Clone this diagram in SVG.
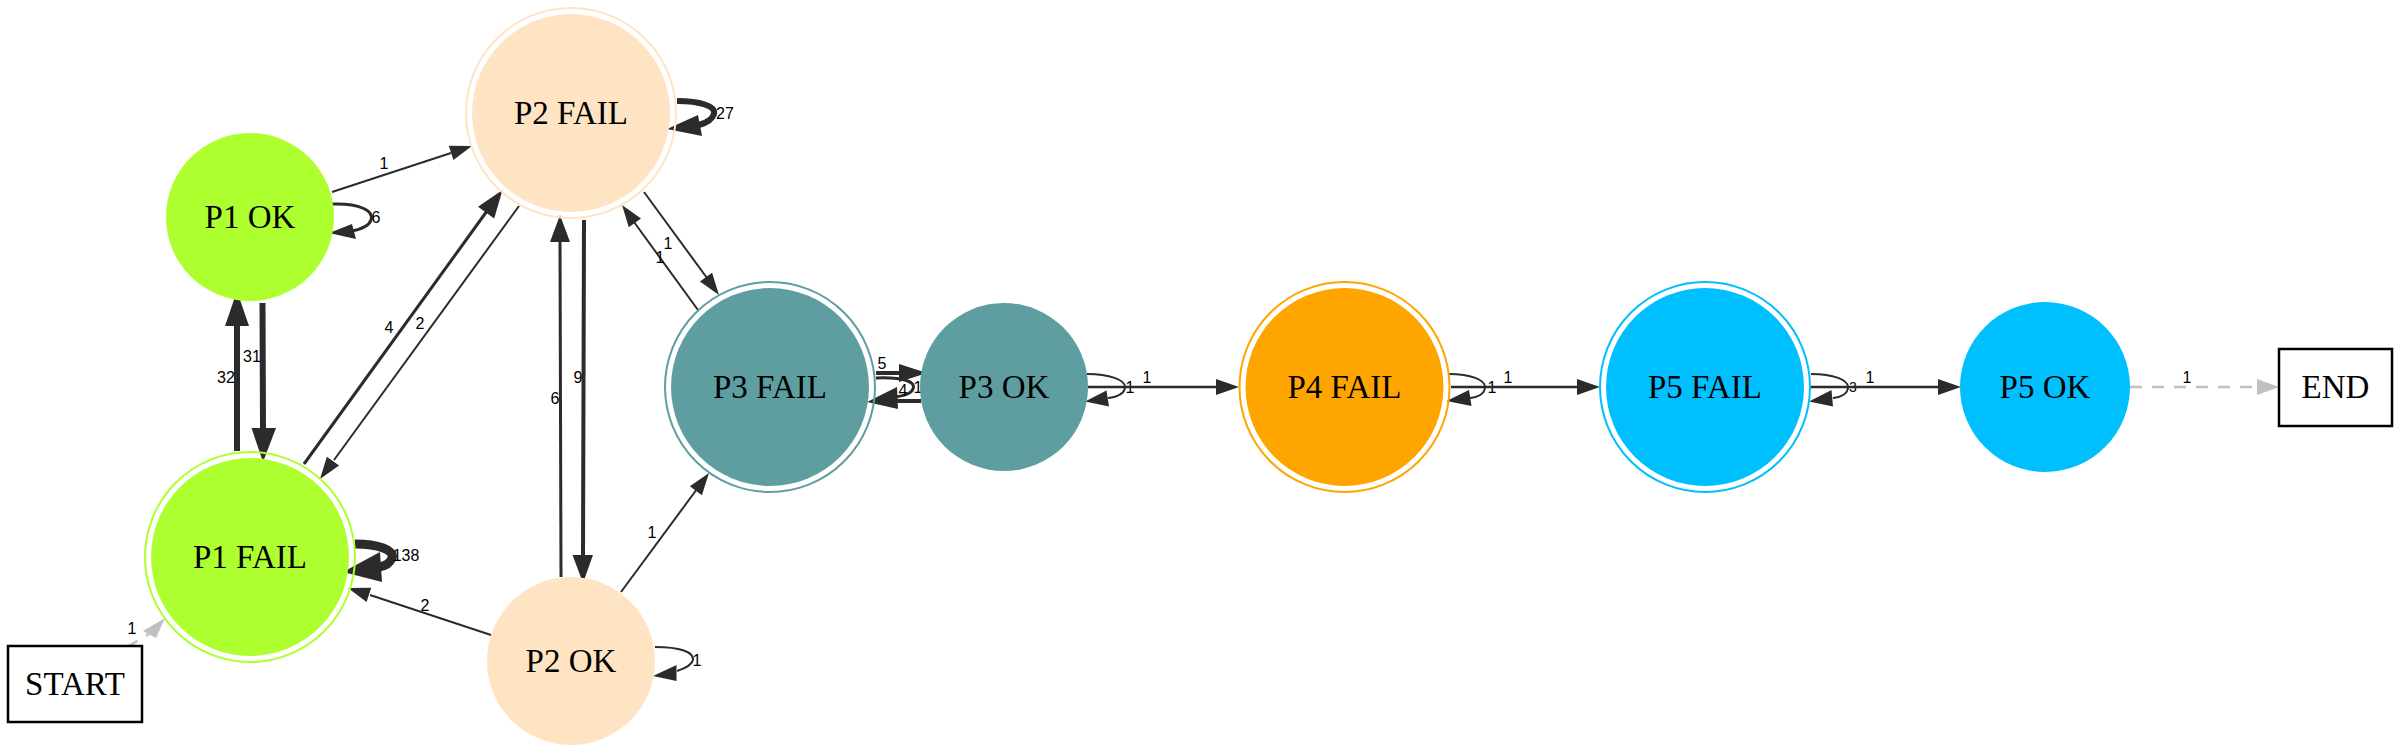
<svg xmlns="http://www.w3.org/2000/svg" width="2400" height="754" viewBox="0 0 2400 754">
<style>
.bg{fill:#ffffff}
.nt{font-family:"Liberation Serif","Times New Roman",serif;font-size:33px;fill:#000;text-anchor:middle}
.el{font-family:"Liberation Sans",Arial,sans-serif;font-size:16px;fill:#000;text-anchor:middle}
.e{fill:none;stroke:#2b2b2b;stroke-linecap:butt}
.h{fill:#2b2b2b;stroke:none}
.g{fill:none;stroke:#c0c0c0;stroke-width:2.5;stroke-dasharray:12,10}
.gh{fill:#c0c0c0}
.box{fill:#fff;stroke:#000;stroke-width:2.5}
</style>
<rect class="bg" x="0" y="0" width="2400" height="754"/>
<g id="connectors">
  <!-- START -> P1 FAIL -->
  <line class="g" x1="127" y1="647" x2="149" y2="634"/>
  <polygon class="gh" points="165,618 143,631 156,638"/>
  <text class="el" x="132" y="634">1</text>
  <!-- P1 OK -> P2 FAIL -->
  <line class="e" stroke-width="2" x1="332" y1="192" x2="451" y2="153"/>
  <polygon class="h" points="472,146 453.4,160 448.8,145.8"/>
  <text class="el" x="384" y="169">1</text>
  <!-- P1 OK loop -->
  <path class="e" stroke-width="3" d="M332 204 C360 203 374 211 371 220 C369 226 362 229 352 231"/>
  <polygon class="h" points="329,233 352,224 356,239"/>
  <text class="el" x="376" y="223">6</text>
  <!-- P2 FAIL loop -->
  <path class="e" stroke-width="6" d="M677 101 C700 101 716 106 714 114 C712 120 706 123 699 125"/>
  <polygon class="h" points="667,129 702,136 698,115"/>
  <text class="el" x="725" y="119">27</text>
  <!-- P1 OK -> P1 FAIL 31 -->
  <line class="e" stroke-width="6" x1="262.5" y1="303" x2="263" y2="430"/>
  <polygon class="h" points="263,462 251.5,428 276,428"/>
  <text class="el" x="252" y="362">31</text>
  <!-- P1 FAIL -> P1 OK 32 -->
  <line class="e" stroke-width="6" x1="237" y1="451" x2="237" y2="324"/>
  <polygon class="h" points="237,291 225,326 249,326"/>
  <text class="el" x="226" y="383">32</text>
  <!-- P1 FAIL -> P2 FAIL 4 -->
  <line class="e" stroke-width="3" x1="304" y1="464" x2="487" y2="211"/>
  <polygon class="h" points="502.5,190 494.2,218.6 478,206.8"/>
  <text class="el" x="389" y="333">4</text>
  <!-- P2 FAIL -> P1 FAIL 2 -->
  <line class="e" stroke-width="2" x1="519" y1="206" x2="334" y2="460"/>
  <polygon class="h" points="320,479 326.9,456.8 339.1,465.6"/>
  <text class="el" x="420" y="329">2</text>
  <!-- P2 OK -> P2 FAIL 6 -->
  <line class="e" stroke-width="3" x1="561" y1="577" x2="560" y2="240"/>
  <polygon class="h" points="560,215 550,242 570,242"/>
  <text class="el" x="555" y="404">6</text>
  <!-- P2 FAIL -> P2 OK 9 -->
  <line class="e" stroke-width="4" x1="584" y1="220" x2="583" y2="557"/>
  <polygon class="h" points="583,583 572.5,555 593,555"/>
  <text class="el" x="578" y="383">9</text>
  <!-- P2 FAIL -> P3 FAIL 1 -->
  <line class="e" stroke-width="2" x1="644" y1="192" x2="707" y2="278"/>
  <polygon class="h" points="719,295 699.9,281.6 712.1,272.8"/>
  <text class="el" x="668" y="249">1</text>
  <!-- P3 FAIL -> P2 FAIL 1 -->
  <line class="e" stroke-width="2" x1="698" y1="310" x2="634" y2="222"/>
  <polygon class="h" points="622,205 641,218.4 628.8,227.2"/>
  <text class="el" x="660" y="263">1</text>
  <!-- P2 OK -> P3 FAIL 1 -->
  <line class="e" stroke-width="2" x1="621" y1="592" x2="697" y2="489"/>
  <polygon class="h" points="709,473 701.9,495.2 689.9,486.2"/>
  <text class="el" x="652" y="538">1</text>
  <!-- P2 OK -> P1 FAIL 2 -->
  <line class="e" stroke-width="2" x1="491" y1="635" x2="370" y2="595"/>
  <polygon class="h" points="348,588 371.2,587.8 366.6,602"/>
  <text class="el" x="425" y="611">2</text>
  <!-- P1 FAIL loop 138 -->
  <path class="e" stroke-width="9" d="M355 544 C378 544 395 550 392 558 C390 563 386 566 379 567"/>
  <polygon class="h" points="343,572 382,582 380,552"/>
  <text class="el" x="406" y="561">138</text>
  <!-- P2 OK loop -->
  <path class="e" stroke-width="2" d="M655 647 C680 647 694 652 693 660 C692 665 686 668 677 671"/>
  <polygon class="h" points="653,676 676.5,665 676.5,681"/>
  <text class="el" x="697" y="666">1</text>
  <!-- P3 FAIL -> P3 OK 5 -->
  <line class="e" stroke-width="4" x1="876" y1="373" x2="901" y2="373"/>
  <polygon class="h" points="927,373 899,364 899,382"/>
  <text class="el" x="882" y="369">5</text>
  <!-- P3 FAIL loop 1 -->
  <path class="e" stroke-width="3" d="M876 378 C905 377 916 382 913 389 C911 394 903 396 895 397"/>
  <text class="el" x="918" y="393">1</text>
  <!-- P3 OK -> P3 FAIL 4 -->
  <line class="e" stroke-width="4" x1="921" y1="401" x2="895" y2="401"/>
  <polygon class="h" points="867,402 897,387 898,409"/>
  <text class="el" x="903" y="396">4</text>
  <!-- P3 OK loop -->
  <path class="e" stroke-width="2" d="M1087 374 C1110 374 1125 380 1125 387 C1125 393 1118 397 1108 398"/>
  <polygon class="h" points="1085,401.5 1109,406.5 1106.5,390.5"/>
  <text class="el" x="1130" y="393">1</text>
  <!-- P3 OK -> P4 FAIL -->
  <line class="e" stroke-width="2.5" x1="1088" y1="387" x2="1218" y2="387"/>
  <polygon class="h" points="1239,387 1216,379 1216,395"/>
  <text class="el" x="1147" y="383">1</text>
  <!-- P4 FAIL loop -->
  <path class="e" stroke-width="2" d="M1449 374 C1471 374 1485 380 1485 387 C1485 393 1479 397 1470 398"/>
  <polygon class="h" points="1446.5,401 1471.5,406 1469,390"/>
  <text class="el" x="1492" y="393">1</text>
  <!-- P4 FAIL -> P5 FAIL -->
  <line class="e" stroke-width="2.5" x1="1451" y1="387" x2="1579" y2="387"/>
  <polygon class="h" points="1600,387 1577,379 1577,395"/>
  <text class="el" x="1508" y="383">1</text>
  <!-- P5 FAIL loop -->
  <path class="e" stroke-width="2" d="M1811 374 C1834 374 1848 380 1848 387 C1848 393 1842 397 1833 398"/>
  <polygon class="h" points="1809,401.5 1833,406.5 1831.5,390"/>
  <text class="el" x="1853" y="392" style="font-size:14px">3</text>
  <!-- P5 FAIL -> P5 OK -->
  <line class="e" stroke-width="2.5" x1="1810" y1="387" x2="1940" y2="387"/>
  <polygon class="h" points="1961,387 1938,379 1938,395"/>
  <text class="el" x="1870" y="383">1</text>
  <!-- P5 OK -> END -->
  <line class="g" x1="2130" y1="387" x2="2257" y2="387"/>
  <polygon class="gh" points="2279,387 2257,379 2257,395"/>
  <text class="el" x="2187" y="383">1</text>
</g>
<g id="node-p1ok">
  <circle cx="250" cy="217" r="84" fill="#adff2f"/>
  <text class="nt" x="250" y="228">P1 OK</text>
</g>
<g id="node-p1fail">
  <circle cx="250" cy="557" r="105" fill="none" stroke="#adff2f" stroke-width="2"/>
  <circle cx="250" cy="557" r="99" fill="#adff2f"/>
  <text class="nt" x="250" y="568">P1 FAIL</text>
</g>
<g id="node-p2fail">
  <circle cx="571" cy="113" r="105" fill="none" stroke="#ffe4c4" stroke-width="2"/>
  <circle cx="571" cy="113" r="99" fill="#ffe4c4"/>
  <text class="nt" x="571" y="124">P2 FAIL</text>
</g>
<g id="node-p2ok">
  <circle cx="571" cy="661" r="84" fill="#ffe4c4"/>
  <text class="nt" x="571" y="672">P2 OK</text>
</g>
<g id="node-p3fail">
  <circle cx="770" cy="387" r="105" fill="none" stroke="#5f9ea0" stroke-width="2"/>
  <circle cx="770" cy="387" r="99" fill="#5f9ea0"/>
  <text class="nt" x="770" y="398">P3 FAIL</text>
</g>
<g id="node-p3ok">
  <circle cx="1004" cy="387" r="84" fill="#5f9ea0"/>
  <text class="nt" x="1004" y="398">P3 OK</text>
</g>
<g id="node-p4fail">
  <circle cx="1344.5" cy="387" r="105" fill="none" stroke="#ffa500" stroke-width="2"/>
  <circle cx="1344.5" cy="387" r="99" fill="#ffa500"/>
  <text class="nt" x="1344.5" y="398">P4 FAIL</text>
</g>
<g id="node-p5fail">
  <circle cx="1705" cy="387" r="105" fill="none" stroke="#00bfff" stroke-width="2"/>
  <circle cx="1705" cy="387" r="99" fill="#00bfff"/>
  <text class="nt" x="1705" y="398">P5 FAIL</text>
</g>
<g id="node-p5ok">
  <circle cx="2045" cy="387" r="85" fill="#00bfff"/>
  <text class="nt" x="2045" y="398">P5 OK</text>
</g>
<g id="node-start">
  <rect class="box" x="8" y="646" width="134" height="76"/>
  <text class="nt" x="75" y="695">START</text>
</g>
<g id="node-end">
  <rect class="box" x="2279" y="349" width="113" height="77"/>
  <text class="nt" x="2335.5" y="398">END</text>
</g>
</svg>
